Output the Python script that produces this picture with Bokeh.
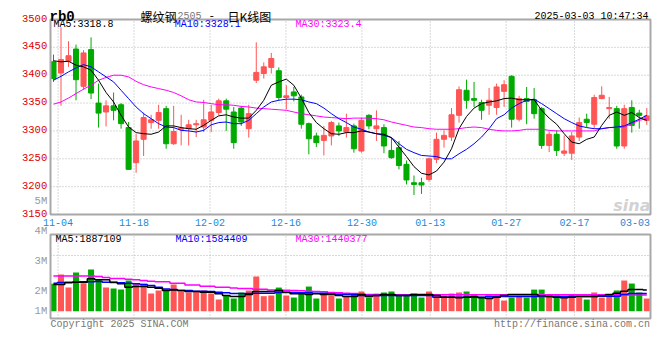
from bokeh.plotting import figure
from bokeh.models import Range1d
from bokeh.embed import file_html
from bokeh.resources import INLINE
from bokeh.core.properties import value

# ---------------- data ----------------
opens = [3424, 3404, 3425, 3447, 3380, 3446, 3350, 3334, 3345, 3347,
         3306, 3243, 3285, 3315, 3319, 3340, 3277, 3303, 3304, 3311,
         3307, 3319, 3333, 3354, 3334, 3341, 3304, 3391, 3403, 3414,
         3408, 3360, 3370, 3361, 3313, 3291, 3283, 3291, 3309, 3298,
         3309, 3264, 3328, 3304, 3306, 3265, 3270, 3240, 3207, 3207,
         3213, 3249, 3285, 3289, 3328, 3373, 3358, 3351, 3346, 3342,
         3371, 3398, 3321, 3358, 3356, 3340, 3274, 3294, 3260, 3260,
         3289, 3321, 3312, 3358, 3340, 3340, 3273, 3342, 3332, 3319]
highs = [3437, 3486, 3461, 3455, 3445, 3468, 3385, 3355, 3369, 3350,
         3316, 3295, 3333, 3329, 3347, 3345, 3345, 3329, 3320, 3320,
         3356, 3347, 3358, 3358, 3343, 3345, 3347, 3459, 3423, 3440,
         3414, 3382, 3379, 3365, 3315, 3297, 3309, 3318, 3315, 3331,
         3313, 3324, 3330, 3337, 3312, 3288, 3282, 3247, 3220, 3216,
         3252, 3297, 3301, 3341, 3380, 3392, 3388, 3356, 3377, 3385,
         3391, 3400, 3363, 3379, 3377, 3343, 3299, 3301, 3292, 3298,
         3324, 3331, 3365, 3380, 3361, 3345, 3347, 3355, 3338, 3341]
lows = [3388, 3345, 3415, 3355, 3374, 3357, 3306, 3308, 3319, 3304,
        3230, 3225, 3255, 3304, 3304, 3268, 3275, 3274, 3274, 3289,
        3298, 3298, 3328, 3300, 3268, 3309, 3288, 3386, 3394, 3403,
        3355, 3339, 3353, 3304, 3258, 3271, 3256, 3274, 3291, 3288,
        3261, 3261, 3303, 3282, 3260, 3250, 3231, 3204, 3185, 3187,
        3209, 3242, 3270, 3282, 3315, 3340, 3343, 3320, 3329, 3329,
        3343, 3306, 3317, 3312, 3322, 3268, 3262, 3255, 3255, 3248,
        3282, 3307, 3304, 3357, 3322, 3268, 3268, 3297, 3304, 3311]
closes = [3394, 3428, 3435, 3392, 3440, 3368, 3332, 3345, 3337, 3313,
          3231, 3282, 3324, 3320, 3333, 3277, 3299, 3305, 3311, 3313,
          3320, 3334, 3354, 3339, 3279, 3316, 3331, 3405, 3415, 3430,
          3360, 3363, 3363, 3312, 3286, 3279, 3292, 3315, 3300, 3306,
          3268, 3319, 3309, 3309, 3273, 3252, 3238, 3212, 3204, 3203,
          3250, 3285, 3292, 3329, 3374, 3355, 3355, 3337, 3355, 3379,
          3383, 3321, 3358, 3353, 3331, 3274, 3294, 3265, 3264, 3291,
          3315, 3315, 3360, 3364, 3342, 3273, 3340, 3310, 3328, 3327]
ma5 = [3426, 3424, 3425, 3418, 3415, 3409, 3391, 3369, 3352, 3328,
       3307, 3297, 3295, 3294, 3298, 3309, 3309, 3306, 3304, 3303,
       3310, 3319, 3327, 3329, 3325, 3323, 3323, 3337, 3355, 3382,
       3388, 3393, 3382, 3359, 3333, 3315, 3304, 3295, 3294, 3297,
       3297, 3300, 3298, 3295, 3294, 3288, 3271, 3254, 3236, 3224,
       3221, 3228, 3244, 3268, 3304, 3326, 3341, 3349, 3352, 3354,
       3358, 3359, 3356, 3356, 3356, 3337, 3323, 3312, 3295, 3280,
       3277, 3285, 3289, 3310, 3328, 3334, 3328, 3333, 3324, 3319]
ma10 = [3391, 3398, 3406, 3413, 3419, 3415, 3406, 3397, 3388, 3373,
        3358, 3343, 3331, 3322, 3313, 3307, 3306, 3301, 3300, 3298,
        3301, 3311, 3315, 3316, 3313, 3313, 3319, 3331, 3343, 3352,
        3355, 3357, 3357, 3356, 3352, 3349, 3341, 3331, 3322, 3315,
        3307, 3303, 3298, 3295, 3292, 3288, 3277, 3267, 3261, 3256,
        3255, 3254, 3250, 3250, 3259, 3267, 3277, 3289, 3304, 3322,
        3329, 3341, 3349, 3355, 3357, 3349, 3340, 3331, 3322, 3315,
        3309, 3306, 3304, 3304, 3306, 3307, 3309, 3315, 3321, 3328]
ma30 = [3348, 3352, 3359, 3367, 3375, 3382, 3391, 3396, 3400, 3400,
        3397, 3389, 3383, 3379, 3376, 3373, 3369, 3363, 3356, 3352,
        3351, 3349, 3347, 3347, 3346, 3344, 3343, 3341, 3340, 3339,
        3338, 3337, 3334, 3331, 3329, 3327, 3325, 3324, 3323, 3322,
        3323, 3323, 3323, 3322, 3320, 3316, 3313, 3310, 3307, 3306,
        3304, 3303, 3303, 3303, 3304, 3306, 3307, 3306, 3303, 3301,
        3300, 3300, 3301, 3303, 3303, 3303, 3301, 3300, 3300, 3300,
        3300, 3300, 3300, 3304, 3306, 3306, 3307, 3313, 3319, 3322]
# volume, in millions
volume = [2.44, 3.27, 2.11, 3.45, 2.50, 3.72, 2.80, 2.11, 2.02, 1.93,
          2.74, 2.44, 2.44, 1.58, 1.85, 1.93, 2.38, 1.76, 1.67, 1.76,
          1.85, 1.58, 1.04, 1.40, 1.13, 1.67, 1.85, 3.10, 1.34, 1.40,
          2.11, 1.40, 1.22, 1.67, 2.20, 1.13, 1.58, 1.40, 1.13, 1.31,
          1.58, 1.76, 1.22, 1.58, 1.67, 1.76, 1.40, 1.40, 1.58, 1.22,
          1.76, 1.40, 1.40, 1.58, 1.67, 1.76, 1.40, 1.31, 1.40, 1.40,
          0.95, 1.22, 1.31, 1.22, 1.93, 1.93, 1.40, 1.40, 1.31, 1.49,
          1.22, 1.04, 1.67, 1.22, 1.49, 1.85, 2.74, 2.47, 1.67, 1.13]
vma5 = [2.38, 2.38, 2.53, 2.59, 2.59, 2.89, 2.80, 2.80, 2.59, 2.44,
        2.14, 2.20, 2.20, 2.14, 2.05, 1.85, 1.90, 1.85, 1.76, 1.76,
        1.70, 1.70, 1.55, 1.40, 1.31, 1.31, 1.49, 1.76, 1.76, 1.76,
        1.85, 1.70, 1.55, 1.55, 1.49, 1.55, 1.49, 1.49, 1.40, 1.31,
        1.31, 1.49, 1.31, 1.40, 1.49, 1.49, 1.40, 1.40, 1.49, 1.49,
        1.49, 1.40, 1.25, 1.25, 1.19, 1.25, 1.31, 1.19, 1.13, 1.25,
        1.40, 1.49, 1.49, 1.49, 1.49, 1.37, 1.31, 1.25, 1.19, 1.25,
        1.31, 1.31, 1.31, 1.37, 1.49, 1.61, 1.79, 1.93, 1.93, 1.89]
vma10 = [2.50, 2.56, 2.59, 2.59, 2.62, 2.62, 2.65, 2.59, 2.56, 2.53,
         2.50, 2.44, 2.38, 2.29, 2.14, 1.99, 1.93, 1.85, 1.85, 1.79,
         1.79, 1.76, 1.70, 1.64, 1.58, 1.58, 1.58, 1.61, 1.61, 1.61,
         1.67, 1.67, 1.67, 1.64, 1.64, 1.61, 1.61, 1.55, 1.52, 1.49,
         1.49, 1.40, 1.40, 1.40, 1.40, 1.40, 1.40, 1.40, 1.40, 1.40,
         1.40, 1.25, 1.25, 1.25, 1.25, 1.25, 1.25, 1.25, 1.31, 1.31,
         1.31, 1.31, 1.31, 1.31, 1.31, 1.31, 1.31, 1.31, 1.31, 1.31,
         1.31, 1.31, 1.31, 1.34, 1.34, 1.34, 1.49, 1.58, 1.58, 1.58]
vma30 = [3.15, 3.15, 3.15, 3.15, 3.15, 3.15, 3.10, 3.01, 2.92, 2.92,
         2.86, 2.80, 2.74, 2.68, 2.62, 2.62, 2.50, 2.50, 2.35, 2.35,
         2.23, 2.23, 2.14, 2.14, 2.08, 2.02, 2.02, 1.96, 1.96, 1.90,
         1.90, 1.88, 1.85, 1.82, 1.79, 1.76, 1.73, 1.67, 1.64, 1.61,
         1.58, 1.52, 1.49, 1.46, 1.46, 1.46, 1.46, 1.46, 1.46, 1.46,
         1.46, 1.46, 1.46, 1.46, 1.46, 1.46, 1.46, 1.46, 1.46, 1.46,
         1.46, 1.46, 1.46, 1.46, 1.46, 1.46, 1.46, 1.46, 1.46, 1.46,
         1.46, 1.46, 1.46, 1.46, 1.46, 1.46, 1.46, 1.45, 1.44, 1.44]

date_tick_pos = [0.61, 10.72, 20.84, 30.95, 41.07, 50.17, 60.28, 69.38, 79.49]
date_tick_labels = ["11-04", "11-18", "12-02", "12-16", "12-30", "01-13", "01-27", "02-17", "03-03"]
price_ticks = [3150, 3200, 3250, 3300, 3350, 3400, 3450, 3500]
price_tick_labels = ["3150", "3200", "3250", "3300", "3350", "3400", "3450", "3500"]
vol_axis_labels = ["5M", "4M", "3M", "2M", "1M"]
vol_axis_label_y = [200.3, 230.3, 260.3, 290.3, 310.3]   # Sina draws these at fixed pixel rows
vol_grid = [3.16, 4.97]

ma_price_texts = ["MA5:3318.8", "MA10:3328.1", "MA30:3323.4"]
ma_vol_texts = ["MA5:1887109", "MA10:1584409", "MA30:1440377"]
ma_colors = ["black", "#0000ff", "#ff00ff"]

# ---------------- geometry / style ----------------
RED, GREEN = "#ff5555", "#00aa00"
MONO, CJK = "Liberation Mono", "Noto Sans CJK SC"
BORDER, GRID = "#a8a8a8", "#b4b4b4"
W, H = 660, 360
CX0, STEP = 53.0, 7.51            # page x of candle 0, spacing between candles
PANEL_L, PANEL_R = 50, 650
P_TOP, P_BOT = 19, 214            # price panel rows (page px)
PMIN, PMAX = 3150, 3500
V_TOP, V_BOT = 234, 318           # volume panel rows (page px)
V_ZERO, V_PX = 310.7, 11.2        # row of zero volume, px per million

PPX = (PMAX - PMIN) / (P_BOT - P_TOP)

def X(px):        # page x -> candle index units
    return (px - CX0) / STEP

def P(py):        # page y -> price
    return PMAX + (P_TOP - py) * PPX

def V(py):        # page y -> volume (millions)
    return (V_ZERO - py) / V_PX

XMIN, XMAX = X(PANEL_L), X(PANEL_R)
VMIN, VMAX = V(V_BOT), V(V_TOP)

idx = list(range(len(opens)))
colors = [RED if c >= o else GREEN for o, c in zip(opens, closes)]
tops = [max(o, c) for o, c in zip(opens, closes)]
bots = [min(o, c) for o, c in zip(opens, closes)]

p = figure(width=W, height=H, x_range=Range1d(X(0), X(W)), y_range=Range1d(P(H), P(0)),
           output_backend="svg", toolbar_location=None,
           x_axis_location=None, y_axis_location=None,
           min_border=0, min_border_left=0, min_border_right=0,
           min_border_top=0, min_border_bottom=0)
p.extra_y_ranges = {"vol": Range1d(V(H), V(0))}
p.outline_line_color = None
p.xgrid.visible = False
p.ygrid.visible = False
p.background_fill_color = "white"
p.border_fill_color = "white"

def txt(x, y, t, color="black", size="10px", font=MONO, align="left",
        baseline="middle", style="normal", yr="default"):
    p.text(x=x if isinstance(x, list) else [x], y=y if isinstance(y, list) else [y],
           text=t if isinstance(t, list) else [t], y_range_name=yr,
           text_color=color, text_font=value(font), text_font_size=value(size),
           text_align=align, text_baseline=baseline, text_font_style=style)

# ---------------- price panel ----------------
p.segment(x0=date_tick_pos[:-1], x1=date_tick_pos[:-1], y0=PMIN, y1=PMAX,
          line_color=GRID, line_dash="1 2", line_width=1)
p.segment(x0=XMIN, x1=XMAX, y0=price_ticks[1:-1], y1=price_ticks[1:-1],
          line_color=GRID, line_dash="1 2", line_width=1)
p.segment(x0=idx, y0=lows, x1=idx, y1=highs, line_color=colors, line_width=1)
p.vbar(x=idx, width=0.67, top=tops, bottom=bots, fill_color=colors,
       line_color=colors, line_width=1)
p.line(idx, ma30, line_color="#ff00ff", line_width=1)
p.line(idx, ma10, line_color="#0000ff", line_width=1)
p.line(idx, ma5, line_color="black", line_width=1)
p.quad(left=XMIN, right=XMAX, bottom=PMIN, top=PMAX, fill_color=None,
       line_color=BORDER, line_width=2)

txt([X(PANEL_L - 3.3)] * len(price_ticks), [t + 1.5 * PPX for t in price_ticks],
    price_tick_labels, color="#dd0000", size="10.5px", align="right")
txt(date_tick_pos[:-1], [P(221.5)] * (len(date_tick_pos) - 1), date_tick_labels[:-1],
    color="#1a8ad8", align="center")
txt(X(PANEL_R - 0.5), P(221.5), date_tick_labels[-1], color="#1a8ad8", align="right")
for t, c, px in zip(ma_price_texts, ma_colors, [53, 174.3, 295]):
    txt(X(px), P(24), t, color=c)
# header
txt(X(49), P(16), "rb0", size="14px", baseline="alphabetic", style="bold")
txt(X(140), P(15.5), "螺纹钢", size="12px", font=CJK, baseline="alphabetic")
txt(X(177), P(15), "2505", color="#777777", baseline="alphabetic")
txt(X(208), P(15), "-", size="11px", baseline="alphabetic")
txt(X(227), P(15.5), "日K线图", size="12px", font=CJK, baseline="alphabetic")
txt(X(648), P(16), "2025-03-03 10:47:34", align="right", baseline="alphabetic")
# watermark
txt(X(650), P(205), "sina", color="#d2d2d2", size="16px", font="DejaVu Sans",
    align="right", baseline="alphabetic", style="bold italic")

# ---------------- volume panel ----------------
p.segment(x0=date_tick_pos[:-1], x1=date_tick_pos[:-1], y0=VMIN, y1=VMAX,
          line_color=GRID, line_dash="1 2", line_width=1, y_range_name="vol")
p.segment(x0=XMIN, x1=XMAX, y0=vol_grid, y1=vol_grid,
          line_color=GRID, line_dash="1 2", line_width=1, y_range_name="vol")
p.vbar(x=idx, width=0.8, top=volume, bottom=0, fill_color=colors, line_color=None,
       y_range_name="vol")
p.step(idx, vma30, mode="center", line_color="#ff00ff", line_width=1.5, y_range_name="vol")
p.step(idx, vma10, mode="center", line_color="#0000ff", line_width=1.5, y_range_name="vol")
p.step(idx, vma5, mode="center", line_color="black", line_width=1.5, y_range_name="vol")
p.quad(left=XMIN, right=XMAX, bottom=VMIN, top=VMAX, fill_color=None,
       line_color=BORDER, line_width=2, y_range_name="vol")
for t, c, px in zip(ma_vol_texts, ma_colors, [55, 175, 295]):
    txt(X(px), V(238.5), t, color=c, yr="vol")
txt([X(PANEL_L - 3.3)] * len(vol_axis_labels), [V(y) for y in vol_axis_label_y],
    vol_axis_labels, color="#999999", size="10.5px", align="right", yr="vol")
txt(X(50), V(324), "Copyright 2025 SINA.COM", color="#777777", yr="vol")
txt(X(649.5), V(324), "http://finance.sina.com.cn", color="#777777", align="right", yr="vol")

open("out.html", "w").write(file_html(p, INLINE))
